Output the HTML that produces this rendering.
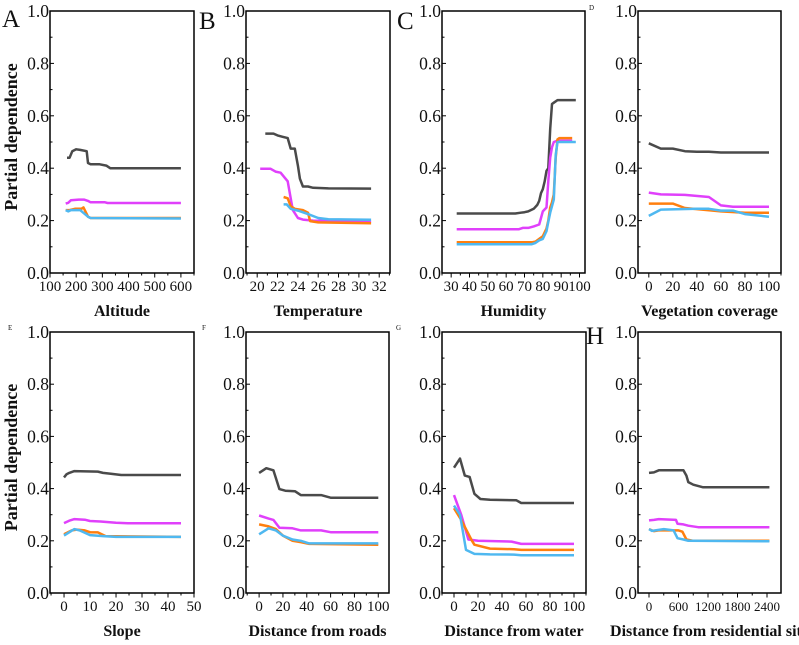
<!DOCTYPE html>
<html><head><meta charset="utf-8"><style>
body{margin:0;background:#fff;width:799px;height:645px;overflow:hidden}
svg{display:block}
text{font-family:"Liberation Serif",serif;fill:#111}
</style></head><body>
<svg id="fig" width="799" height="645" viewBox="0 0 799 645"></svg>
<script>
const colors = ["#4a4a4a","#e040fb","#ff7f0e","#4fb8f0"];
const seriesNames = ["gray","magenta","orange","blue"];
// Panel A: Altitude
const aX = [[165,175,185,200,215,240,245,255,290,315,330,600],[160,170,180,210,230,245,255,310,320,600],[160,175,195,220,228,245,255,600],[160,170,180,215,245,255,600]];
const aY = [[0.44,0.44,0.465,0.472,0.47,0.465,0.42,0.415,0.415,0.41,0.40,0.40],[0.265,0.268,0.278,0.28,0.28,0.275,0.27,0.27,0.267,0.267],[0.24,0.24,0.245,0.245,0.25,0.215,0.21,0.21],[0.24,0.235,0.24,0.24,0.215,0.21,0.208]];
const aTicks = [100,200,300,400,500,600];
// Panel B: Temperature
const bX = [[20.8,21.6,22,22.5,23,23.3,23.7,24,24.2,24.5,25,25.5,27,31.2],[20.3,21.3,21.8,22.3,23,23.5,24,24.5,25.5,31.2],[22.6,23,23.3,23.7,24.5,25,25.2,26,31.2],[22.6,22.9,23.3,24,25,26,27,31.2]];
const bY = [[0.532,0.532,0.525,0.52,0.515,0.475,0.475,0.41,0.36,0.33,0.33,0.325,0.323,0.322],[0.398,0.398,0.387,0.383,0.35,0.24,0.21,0.204,0.2,0.196],[0.29,0.285,0.255,0.245,0.24,0.23,0.198,0.193,0.19],[0.262,0.262,0.245,0.238,0.225,0.21,0.205,0.203]];
const bTicks = [20,22,24,26,28,30,32];
// Panel C: Humidity
const cX = [[33,65,68,70,72,75,77,78,79,80,81,82,83,84,85,86,88,98],[33,67,69,72,75,78,79,80,82,83,84,85,86,88,96],[33,74,76,78,80,82,83,84,85,86,87,88,89,96],[33,74,76,78,80,82,83,84,86,87,88,98]];
const cY = [[0.227,0.227,0.23,0.232,0.235,0.245,0.26,0.275,0.305,0.32,0.35,0.39,0.40,0.55,0.645,0.65,0.66,0.66],[0.167,0.167,0.172,0.172,0.178,0.185,0.21,0.235,0.25,0.35,0.44,0.48,0.5,0.505,0.505],[0.117,0.117,0.12,0.13,0.14,0.17,0.2,0.25,0.27,0.3,0.44,0.51,0.515,0.515],[0.11,0.11,0.115,0.125,0.13,0.16,0.195,0.23,0.28,0.45,0.5,0.5]];
const cTicks = [30,40,50,60,70,80,90,100];
// Panel D: Vegetation coverage
const dX = [[0,10,20,30,40,50,60,100],[0,10,30,50,60,70,100],[0,20,30,60,80,100],[0,10,40,50,60,70,80,100]];
const dY = [[0.495,0.475,0.475,0.465,0.463,0.463,0.46,0.46],[0.307,0.3,0.298,0.29,0.258,0.253,0.253],[0.265,0.265,0.248,0.235,0.23,0.23],[0.218,0.242,0.245,0.245,0.238,0.238,0.225,0.215]];
const dTicks = [0,20,40,60,80,100];
// Panel E: Slope
const eX = [[0,1,2,4,13,15,18,22,45],[0,2,4,8,10,14,20,25,45],[0,3,5,8,10,13,16,45],[0,4,6,10,15,20,45]];
const eY = [[0.443,0.455,0.46,0.467,0.465,0.46,0.457,0.452,0.452],[0.268,0.277,0.283,0.281,0.276,0.274,0.269,0.267,0.267],[0.225,0.24,0.243,0.24,0.233,0.232,0.218,0.215],[0.22,0.245,0.24,0.222,0.218,0.215,0.215]];
const eTicks = [0,10,20,30,40,50];
// Panel F: Distance from roads
const fX = [[0,6,12,17,22,30,35,52,60,100],[0,8,12,17,28,35,52,60,100],[0,8,14,20,28,35,42,100],[0,8,14,20,28,35,42,60,100]];
const fY = [[0.46,0.478,0.47,0.398,0.392,0.39,0.375,0.375,0.365,0.365],[0.297,0.285,0.28,0.25,0.248,0.24,0.24,0.233,0.233],[0.263,0.255,0.245,0.22,0.2,0.195,0.188,0.185],[0.225,0.248,0.24,0.22,0.205,0.2,0.19,0.19,0.19]];
const fTicks = [0,20,40,60,80,100];
// Panel G: Distance from water
const gX = [[0,5,9,13,17,22,30,52,56,100],[0,6,12,20,48,56,100],[0,6,15,17,30,50,56,100],[0,5,10,17,30,50,56,100]];
const gY = [[0.48,0.515,0.45,0.445,0.38,0.36,0.357,0.355,0.345,0.345],[0.375,0.3,0.205,0.2,0.197,0.188,0.188],[0.325,0.28,0.2,0.185,0.17,0.168,0.165,0.165],[0.335,0.3,0.165,0.15,0.148,0.147,0.145,0.145]];
const gTicks = [0,20,40,60,80,100];
// Panel H: Distance from residential site
const hX = [[0,100,200,700,760,800,900,1100,2450],[0,100,200,550,580,700,800,1000,2450],[0,100,200,600,680,760,900,2450],[0,60,300,500,580,700,800,2450]];
const hY = [[0.46,0.462,0.47,0.47,0.45,0.425,0.415,0.405,0.405],[0.278,0.28,0.283,0.28,0.265,0.263,0.258,0.252,0.252],[0.245,0.237,0.24,0.24,0.235,0.205,0.2,0.2],[0.245,0.238,0.245,0.24,0.21,0.205,0.2,0.198]];
const hTicks = [0,600,1200,1800,2400];
const yTicks = [0,0.2,0.4,0.6,0.8,1.0];

const panels = [
 {id:"a",X:aX,Y:aY,ticks:aTicks,dom:[100,650],l:50,r:194,t:11,b:273,title:"Altitude",letter:"A",lx:2,ly:27,ls:25,ylab:true},
 {id:"b",X:bX,Y:bY,ticks:bTicks,dom:[18.9,33.06],l:246,r:390,t:11,b:273,title:"Temperature",letter:"B",lx:199,ly:29,ls:25},
 {id:"c",X:cX,Y:cY,ticks:cTicks,dom:[25,103],l:442,r:585,t:11,b:273,title:"Humidity",letter:"C",lx:397,ly:29,ls:25},
 {id:"d",X:dX,Y:dY,ticks:dTicks,dom:[-9,110],l:638,r:781,t:11,b:273,title:"Vegetation coverage",letter:"D",lx:589,ly:10,ls:7},
 {id:"e",X:eX,Y:eY,ticks:eTicks,dom:[-5.4,50],l:50,r:194,t:332,b:593,title:"Slope",letter:"E",lx:8,ly:330,ls:7,ylab:true},
 {id:"f",X:fX,Y:fY,ticks:fTicks,dom:[-11,109],l:246,r:389,t:332,b:593,title:"Distance from roads",letter:"F",lx:202,ly:330,ls:7},
 {id:"g",X:gX,Y:gY,ticks:gTicks,dom:[-10,110],l:442,r:586,t:332,b:593,title:"Distance from water",letter:"G",lx:396,ly:330,ls:7},
 {id:"h",X:hX,Y:hY,ticks:hTicks,dom:[-224,2685],l:638,r:781,t:332,b:593,title:"Distance from residential site",letter:"H",lx:586,ly:344,ls:25}
];
const NS="http://www.w3.org/2000/svg";
const svg=document.getElementById("fig");
function mk(tag,attrs,parent){const e=document.createElementNS(NS,tag);for(const k in attrs)e.setAttribute(k,attrs[k]);(parent||svg).appendChild(e);return e;}
panels.forEach(p=>{
  const g=mk("g",{});
  
  
  const sx=v=>p.l+(v-p.dom[0])/(p.dom[1]-p.dom[0])*(p.r-p.l);
  const sy=v=>p.b-v*(p.b-p.t);
  p.X.forEach((xs,si)=>{
    const d=xs.map((x,i)=>(i?"L":"M")+sx(x).toFixed(1)+","+sy(p.Y[si][i]).toFixed(1)).join("");
    const path=mk("path",{d:d,fill:"none",stroke:colors[si],"stroke-width":2.5,"stroke-linejoin":"round"},g);
    
    
  });
  const fr=mk("rect",{x:p.l,y:p.t,width:p.r-p.l,height:p.b-p.t,fill:"none",stroke:"#000","stroke-width":1.5},g);
  
  
  for(let k=0;k<=10;k++){const v=k/10,y=sy(v);mk("line",{x1:p.l,x2:p.l+(k%2?2.5:4),y1:y,y2:y,stroke:"#000","stroke-width":1},g);}
  yTicks.forEach(v=>{const t=mk("text",{x:p.l-1,y:sy(v)+6,"text-anchor":"end","font-size":17.5},g);t.textContent=v.toFixed(1);
    
    });
  const step=p.ticks[1]-p.ticks[0];
  for(let v=p.ticks[0]-step/2;v<=p.dom[1];v+=step/2){if(v<p.dom[0])continue;const x=sx(v);const major=Math.abs(((v-p.ticks[0])/step)%1)<1e-6;mk("line",{x1:x,x2:x,y1:p.b,y2:p.b+(major?4.5:2.5),stroke:"#000","stroke-width":1},g);}
  p.ticks.forEach(v=>{const t=mk("text",{x:sx(v),y:p.b+18,"text-anchor":"middle","font-size":p.id=="h"?13:15},g);t.textContent=v;
    
    });
  const tt=mk("text",{x:(p.l+p.r)/2,y:p.b+43,"text-anchor":"middle","font-size":16,"font-weight":"bold"},g);tt.textContent=p.title;
  
  
  const lt=mk("text",{x:p.lx,y:p.ly,"font-size":p.ls},g);lt.textContent=p.letter;
  
  
  if(p.ylab){const yl=mk("text",{x:0,y:0,"text-anchor":"middle","font-size":18,"font-weight":"bold",transform:"translate(17,"+((p.t+p.b)/2-5)+") rotate(-90)"},g);yl.textContent="Partial dependence";
    
    }
});
</script>
</body></html>
